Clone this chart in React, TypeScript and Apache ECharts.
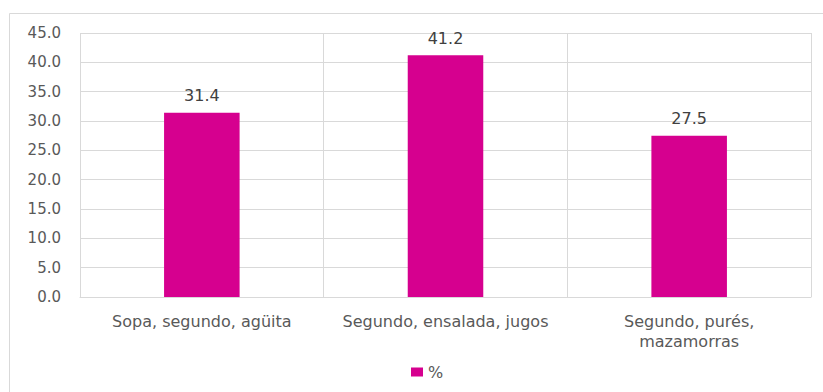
import React, { useEffect, useRef } from "react";
import * as echarts from "echarts";

const categories = ["Sopa, segundo, agüita", "Segundo, ensalada, jugos", "Segundo, purés,\nmazamorras"];
const values = [31.4, 41.2, 27.5];
const seriesName = "%";

export default function App() {
  const ref = useRef<HTMLDivElement>(null);
  useEffect(() => {
    if (!ref.current) return;
    const chart = echarts.init(ref.current, undefined, { renderer: "svg" });
    const font = "'DejaVu Sans', Verdana, sans-serif";
    chart.setOption({
      animation: false,
      backgroundColor: "#ffffff",
      textStyle: { fontFamily: font },
      graphic: [
        {
          type: "rect",
          shape: { x: 9.5, y: 13.5, width: 840, height: 420 },
          style: { fill: "none", stroke: "#d9d9d9", lineWidth: 1 },
          silent: true,
        },
      ],
      grid: { left: 80, right: 12, top: 33, bottom: 95, containLabel: false },
      legend: {
        data: [seriesName],
        bottom: 7,
        left: 406,
        itemWidth: 12,
        itemHeight: 9,
        itemGap: 5,
        icon: "rect",
        textStyle: { color: "#595959", fontSize: 16, fontFamily: font },
      },
      xAxis: {
        type: "category",
        data: categories,
        axisLine: { show: true, lineStyle: { color: "#d9d9d9" } },
        axisTick: { show: false, interval: 0 },
        splitLine: { show: true, interval: 0, lineStyle: { color: "#d9d9d9" } },
        axisLabel: {
          color: "#595959",
          fontSize: 16,
          margin: 14,
          lineHeight: 20,
          interval: 0,
          hideOverlap: false,
          fontFamily: font,
        },
      },
      yAxis: {
        type: "value",
        min: 0,
        max: 45,
        interval: 5,
        axisLine: { show: false },
        axisTick: { show: false },
        splitLine: { show: true, lineStyle: { color: "#d9d9d9" } },
        axisLabel: {
          color: "#595959",
          fontSize: 15,
          margin: 19,
          fontFamily: font,
          formatter: (v: number) => v.toFixed(1),
        },
      },
      series: [
        {
          name: seriesName,
          type: "bar",
          data: values,
          barWidth: "31%",
          itemStyle: { color: "#D6008F" },
          label: {
            show: true,
            position: "top",
            distance: 9,
            color: "#404040",
            fontSize: 16,
            fontFamily: font,
            formatter: (p: any) => p.value.toFixed(1),
          },
        },
      ],
    });
    return () => chart.dispose();
  }, []);
  return (
    <div
      ref={ref}
      style={{ position: "fixed", left: 0, top: 0, width: 823, height: 392 }}
    />
  );
}
